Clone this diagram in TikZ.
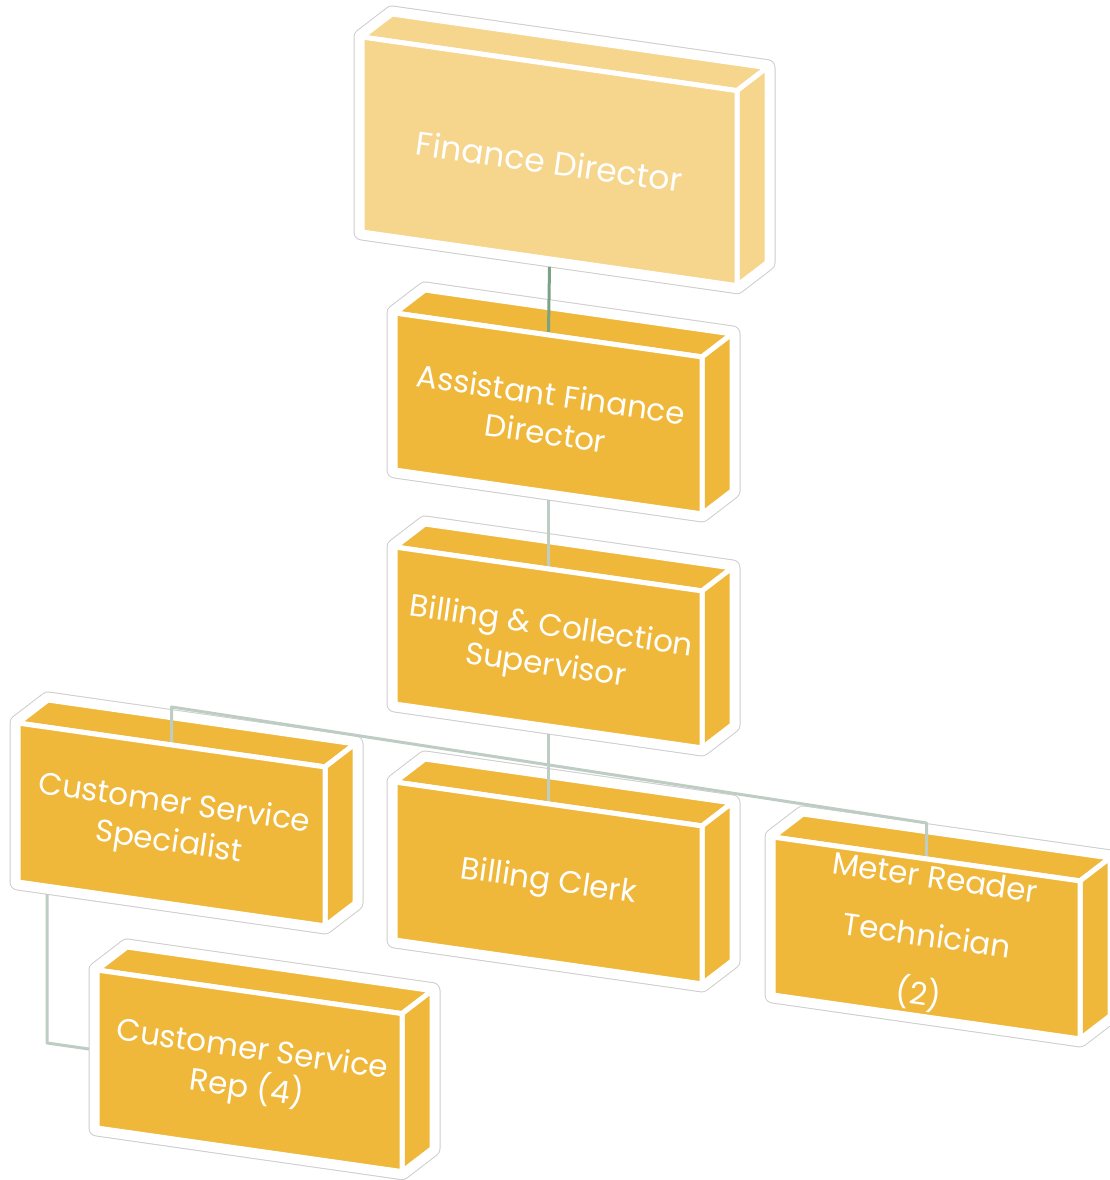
\documentclass[tikz,border=0pt]{standalone}
\usepackage{fontspec}
\setmainfont{Poppins}
\usepackage{tikz}
\usetikzlibrary{calc}

\definecolor{fdcol}{RGB}{246,213,141}
\definecolor{boxcol}{RGB}{239,184,59}
\definecolor{linkA}{RGB}{122,163,133}
\definecolor{linkB}{RGB}{190,205,195}
\definecolor{halo}{RGB}{205,205,205}

\tikzset{
  boxtext/.style={text=white, align=center, rotate=-8.1, inner sep=0pt, font=\fontsize{15.5}{19.5}\selectfont},
  fdtext/.style={boxtext, font=\fontsize{16.5}{20}\selectfont},
  link/.style={line width=1.5pt, draw=linkB},
  face/.style={draw=white, line width=2.5pt},
}

\begin{document}
\begin{tikzpicture}[x=0.5pt,y=-0.5pt,line join=round]
        \useasboundingbox (0,0) rectangle (1110,1180);
        %画立体方框
        \foreach \n/\x/\y/\w/\h/\c/\s/\t in {
                fd/362/37/375/195/fdcol/fdtext/{Finance Director},
                afd/395/313/307/157/boxcol/boxtext/{Assistant Finance\\Director},
                bcs/395/547/307/157/boxcol/boxtext/{Billing \& Collection\\Supervisor},
                css/18/723/307/159/boxcol/boxtext/{Customer Service\\Specialist},
                bc/395/782/307/158/boxcol/boxtext/{Billing Clerk},
                mrt/773/837/307/158/boxcol/boxtext/{Meter Reader\\[10pt]Technician\\[10pt](2)},
                csr/97/970/305/158/boxcol/boxtext/{Customer Service\\Rep (4)}}
        {
                \pgfmathsetmacro{\r}{0.143*\w}
                %外轮廓
                \draw[halo, line width=8.5pt] (\x,\y) -- ++(30,-23) -- ++(\w,\r) -- ++(0,\h) -- ++(-30,23) -- ++(-\w,-\r) -- cycle;
                \draw[white, line width=7.5pt] (\x,\y) -- ++(30,-23) -- ++(\w,\r) -- ++(0,\h) -- ++(-30,23) -- ++(-\w,-\r) -- cycle;
                %三个面
                \filldraw[face, fill=\c] (\x,\y) -- ++(30,-23) -- ++(\w,\r) -- ++(-30,23) -- cycle;
                \filldraw[face, fill=\c] (\x+\w,\y+\r) -- ++(30,-23) -- ++(0,\h) -- ++(-30,23) -- cycle;
                \filldraw[face, fill=\c] (\x,\y) -- ++(\w,\r) -- ++(0,\h) -- ++(-\w,-\r) -- cycle;
                %连线端点
                \coordinate (\n-top) at ({\x+\w/2},{\y+\r/2-3});
                \coordinate (\n-bot) at ({\x+\w/2},{\y+\h+\r/2+8});
                \coordinate (\n-foot) at ({\x+29},{\y+\h+12});
                \coordinate (\n-left) at ({\x-8},{\y+\h/2});
                \node[\s] (\n) at ({\x+\w/2},{\y+\h/2+\r/2}) {\t};
        }
        %画连线
        \draw[link, draw=linkA] (fd-bot) -- (afd-top);
        \draw[link] (afd-bot) -- (bcs-top);
        \draw[link] (bcs-bot) -- (bc-top);
        \draw[link] (css-top) -- ++(0,-35) -- ($(mrt-top)+(0,-33)$) -- (mrt-top);
        \coordinate (elbow) at (css-foot |- csr-left);
        \draw[link] (css-foot) -- ($(elbow)+(0,-6)$) -- (csr-left);
\end{tikzpicture}
\end{document}
